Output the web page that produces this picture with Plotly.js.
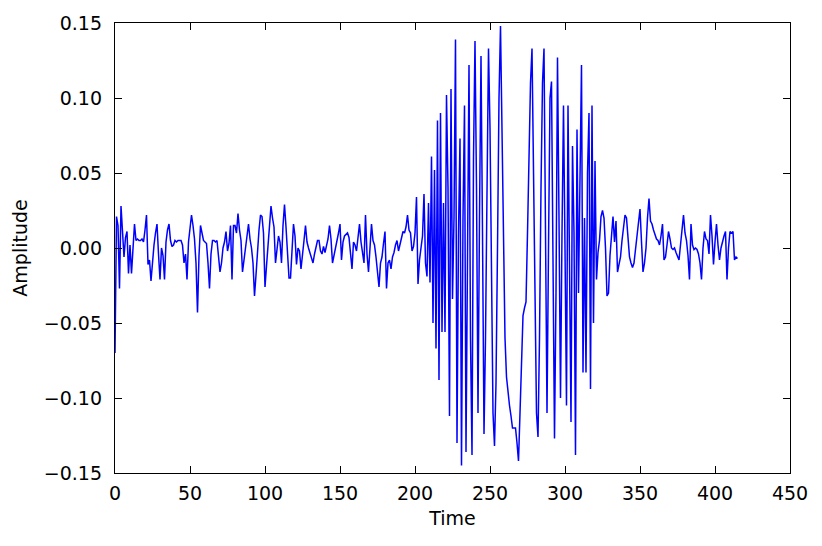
<!DOCTYPE html>
<html>
<head>
<meta charset="utf-8">
<script src="https://cdn.plot.ly/plotly-3.0.1.min.js"></script>
<style>
html,body{margin:0;padding:0;background:#fff;}
#chart{width:822px;height:546px;}
</style>
</head>
<body>
<div id="chart"></div>
<script>
// Sample amplitudes (index = time step 0..415)
const amplitude = [
 -0.070, 0.021, 0.015,-0.027, 0.028, 0.006,-0.006, 0.007, 0.011,-0.017,
  0.002,-0.017, 0.004, 0.016, 0.005, 0.006, 0.005, 0.005, 0.006, 0.004,
  0.012, 0.022,-0.011,-0.008,-0.022,-0.006, 0.002, 0.010, 0.016,-0.004,
 -0.021, 0.000,-0.005,-0.021, 0.004, 0.012, 0.016, 0.005, 0.001, 0.002,
  0.005, 0.004, 0.005, 0.005, 0.005, 0.002,-0.010,-0.004,-0.021, 0.004,
  0.014, 0.022, 0.015, 0.006,-0.010,-0.043,-0.005, 0.015, 0.010, 0.005,
  0.004, 0.003,-0.010,-0.027,-0.004, 0.005, 0.005, 0.004, 0.005,-0.006,
 -0.016,-0.010, 0.000, 0.004, 0.011,-0.002, 0.003, 0.015,-0.021, 0.015,
  0.015, 0.010, 0.023, 0.012, 0.005,-0.016,-0.006, 0.000, 0.008, 0.016,
  0.006, 0.000,-0.010,-0.032,-0.018, 0.000, 0.012, 0.022, 0.021, 0.010,
 -0.026,-0.012, 0.000, 0.018, 0.028, 0.020, 0.014,-0.010, 0.002, 0.008,
  0.004,-0.010, 0.015, 0.029, 0.014,-0.005,-0.020,-0.020,-0.002, 0.016,
  0.008,-0.011, 0.000,-0.002,-0.014,-0.006, 0.005, 0.015, 0.004, 0.000,
 -0.004,-0.007,-0.010,-0.004, 0.002, 0.005, 0.005,-0.002,-0.004, 0.001,
 -0.003, 0.002, 0.006, 0.015, 0.006,-0.010,-0.004, 0.000, 0.005, 0.010,
  0.016,-0.008, 0.004, 0.008, 0.009, 0.010, 0.007,-0.002,-0.014, 0.004,
  0.002,-0.002, 0.006, 0.016, 0.004,-0.004,-0.010, 0.022,-0.004,-0.016,
  0.002, 0.016, 0.005, 0.002,-0.006,-0.015,-0.026,-0.010,-0.006, 0.003,
  0.011,-0.027,-0.010,-0.008,-0.014,-0.006,-0.003, 0.002, 0.005,-0.002,
  0.002, 0.008, 0.011, 0.010, 0.014, 0.022, 0.012, 0.010,-0.002, 0.001,
  0.010, 0.034,-0.024,-0.008, 0.002, 0.008, 0.036,-0.010,-0.019, 0.030,
 -0.023, 0.061,-0.050, 0.052,-0.067, 0.085,-0.088, 0.090,-0.056, 0.030,
 -0.056, 0.102, 0.040,-0.112, 0.106,-0.034, 0.020, 0.139,-0.130, 0.010,
  0.073,-0.145, 0.020, 0.095,-0.136, 0.030, 0.122,-0.060,-0.138, 0.060,
  0.138, 0.040,-0.110, 0.020, 0.128, 0.010,-0.124,-0.060, 0.060, 0.133,
  0.080,-0.040,-0.110,-0.132,-0.090, 0.000, 0.100, 0.148, 0.080,-0.010,
 -0.060,-0.086,-0.097,-0.105,-0.112,-0.120,-0.120,-0.120,-0.130,-0.142,
 -0.110,-0.070,-0.045,-0.040,-0.036, 0.010, 0.060, 0.110, 0.133, 0.060,
 -0.040,-0.110,-0.126,-0.060, 0.040, 0.110, 0.133, 0.010,-0.110, 0.000,
  0.100, 0.111,-0.010,-0.127,-0.030, 0.127, 0.020,-0.100, 0.010, 0.095,
  0.000,-0.105, 0.095, 0.010,-0.116, 0.068, 0.010,-0.138, 0.079,-0.030,
  0.040, 0.122,-0.083, 0.020,-0.083, 0.050, 0.090,-0.094, 0.095,-0.050,
  0.058,-0.021,-0.003, 0.005, 0.021, 0.025, 0.020, 0.000,-0.032,-0.030,
 -0.005, 0.012, 0.021, 0.004, 0.018,-0.016,-0.010,-0.006, 0.005, 0.012,
  0.022, 0.020, 0.008,-0.006,-0.010,-0.013,-0.010,-0.002, 0.010, 0.018,
  0.026, 0.004,-0.016,-0.010, 0.000, 0.020, 0.033, 0.018, 0.016, 0.012,
  0.008, 0.006, 0.005, 0.002, 0.008, 0.016,-0.008,-0.006, 0.002, 0.011,
  0.006, 0.000,-0.001, 0.000,-0.003,-0.006,-0.008, 0.002, 0.012, 0.022,
  0.010, 0.005,-0.005,-0.021, 0.016, 0.002,-0.001, 0.000,-0.001,-0.004,
 -0.010,-0.021, 0.000, 0.011, 0.006, 0.005,-0.004, 0.022, 0.008,-0.011,
  0.004, 0.016, 0.002,-0.008, 0.000, 0.005, 0.008, 0.011,-0.021, 0.000,
  0.011, 0.010, 0.011,-0.008,-0.006,-0.007
];
const time = amplitude.map((_, i) => i);
const xTicks = [0, 50, 100, 150, 200, 250, 300, 350, 400, 450];
const yTicks = [-0.15, -0.10, -0.05, 0.00, 0.05, 0.10, 0.15];
const xTitle = "Time";
const yTitle = "Amplitude";

const font = {family: "DejaVu Sans, sans-serif", size: 19, color: "#000"};

Plotly.newPlot("chart", [{
  x: time, y: amplitude, type: "scatter", mode: "lines",
  line: {color: "#0000ff", width: 1.5}, hoverinfo: "skip"
}], {
  width: 822, height: 546,
  margin: {l: 115, r: 32, t: 23, b: 73, pad: 0},
  paper_bgcolor: "#fff", plot_bgcolor: "#fff",
  font: font,
  showlegend: false,
  xaxis: {
    range: [0, 450], tickvals: xTicks, ticktext: xTicks.map(String),
    ticks: "inside", ticklen: 7, tickwidth: 1, tickcolor: "#000",
    showline: true, linecolor: "#000", linewidth: 1.2, mirror: "allticks",
    showgrid: false, zeroline: false, ticklabelstandoff: 3,
    title: {text: xTitle, font: font, standoff: 8}
  },
  yaxis: {
    range: [-0.15, 0.15], tickvals: yTicks, tickformat: ".2f",
    ticks: "inside", ticklen: 7, tickwidth: 1, tickcolor: "#000",
    showline: true, linecolor: "#000", linewidth: 1.2, mirror: "allticks",
    showgrid: false, zeroline: false, ticklabelstandoff: 8,
    title: {text: yTitle, font: font, standoff: 11}
  }
}, {staticPlot: true, displayModeBar: false});
</script>
</body>
</html>
